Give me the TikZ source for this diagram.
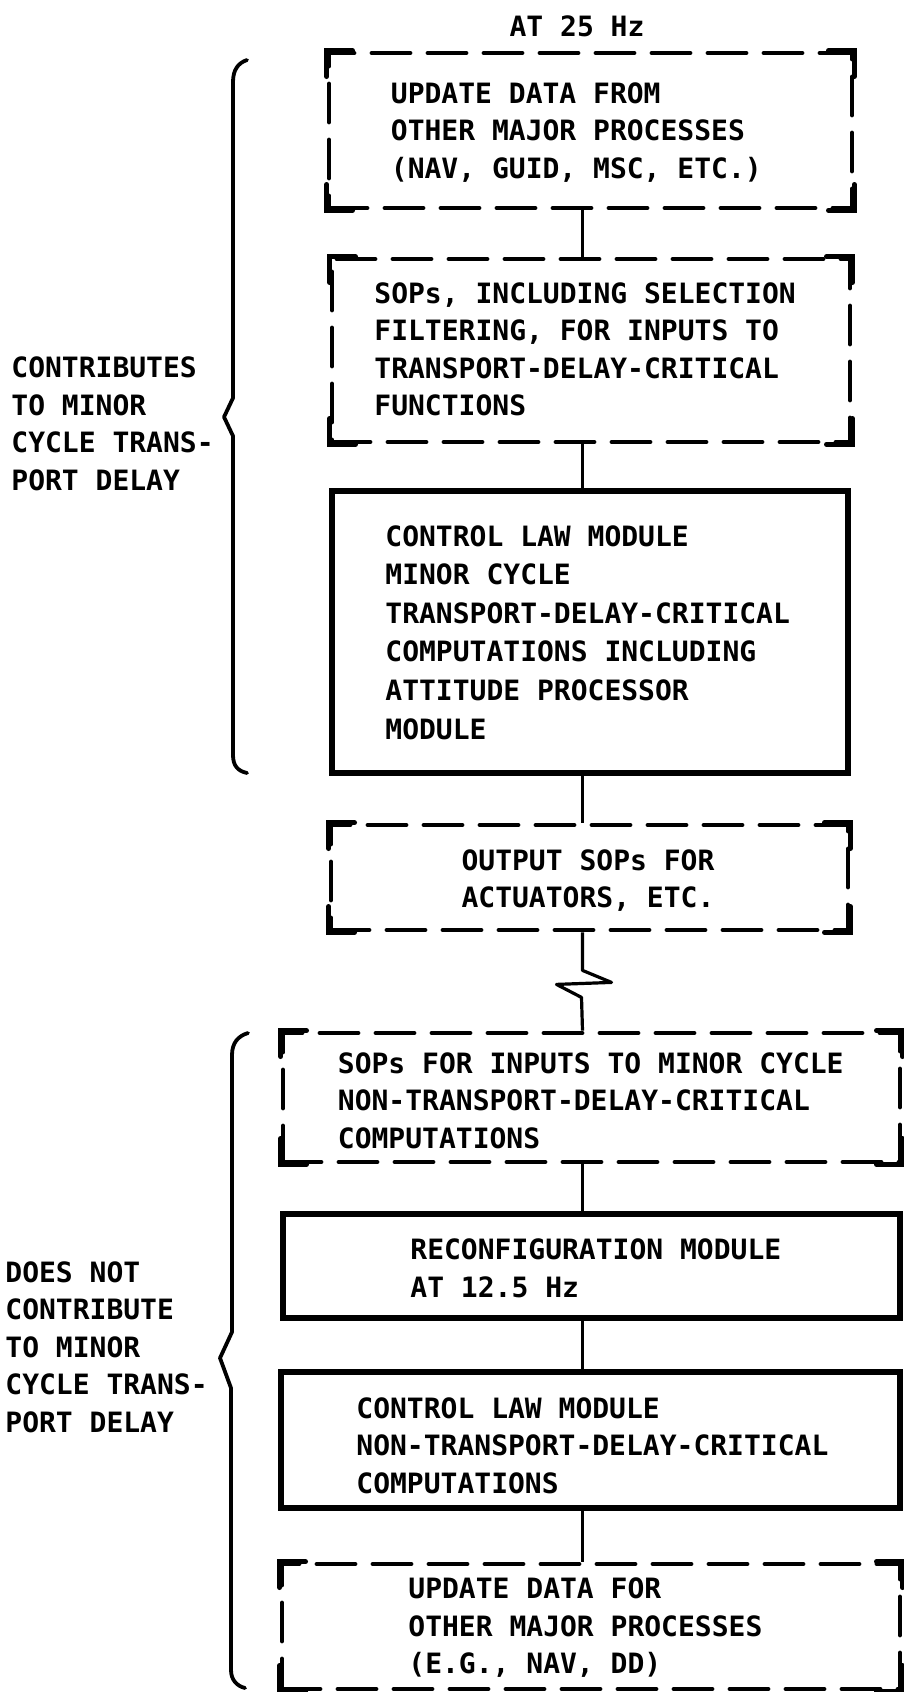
\documentclass[tikz,border=0pt]{standalone}
\usepackage{fontspec}
\newfontfamily\lettering{DejaVu Sans Mono}
\begin{document}
\begin{tikzpicture}[x=0.5pt,y=-0.5pt,
  txt/.style={font=\lettering\bfseries\fontsize{14}{18.75}\selectfont, inner sep=0pt, align=left},
  dbox/.style={draw, rectangle, inner sep=0pt, line width=2.4pt, line cap=round, dash pattern=on 19pt off 9pt},
  sbox/.style={draw, rectangle, inner sep=0pt, line width=2.8pt},
  cornerln/.style={line width=2.4pt, line cap=round, line join=miter},
  conn/.style={line width=1.6pt, line join=round},
  brc/.style={line width=1.9pt, line cap=round, line join=round}]
\useasboundingbox (0,0) rectangle (904,1692);

\coordinate (cx) at (582.5,0);

% boxes
\node[dbox, minimum width=261.5pt, minimum height=77.5pt] (b1) at (590.5,130.5) {};
\node[dbox, minimum width=259pt, minimum height=91.5pt] (b2) at (591,350.5) {};
\node[sbox, minimum width=258pt, minimum height=141pt] (b3) at (590,632) {};
\node[dbox, minimum width=258.5pt, minimum height=52.5pt] (b4) at (589.5,877.5) {};
\node[dbox, minimum width=308.5pt, minimum height=64.5pt] (b5) at (591.5,1097.5) {};
\node[sbox, minimum width=308.5pt, minimum height=52pt] (b6) at (591.5,1266) {};
\node[sbox, minimum width=309.5pt, minimum height=68pt] (b7) at (590.5,1440) {};
\node[dbox, minimum width=309pt, minimum height=62.5pt] (b8) at (591,1626.5) {};

% solid corners of dashed boxes
\foreach \n in {b1,b2,b4,b5,b8} {
  \draw[cornerln] ([shift={(0,26)}]\n.north west) -- (\n.north west) -- ([shift={(26,0)}]\n.north west);
  \draw[cornerln] ([shift={(0,26)}]\n.north east) -- (\n.north east) -- ([shift={(-26,0)}]\n.north east);
  \draw[cornerln] ([shift={(0,-26)}]\n.south west) -- (\n.south west) -- ([shift={(26,0)}]\n.south west);
  \draw[cornerln] ([shift={(0,-26)}]\n.south east) -- (\n.south east) -- ([shift={(-26,0)}]\n.south east);
}

% texts (anchored at the baseline of the last line)
\node[txt, anchor=base] (t0) at (577,36) {AT 25 Hz};
\node[txt, anchor=base west] (t1) at (390.5,178) {UPDATE DATA FROM\\OTHER MAJOR PROCESSES\\(NAV, GUID, MSC, ETC.)};
\node[txt, anchor=base west] (t2) at (374,415.5) {SOPs, INCLUDING SELECTION\\FILTERING, FOR INPUTS TO\\TRANSPORT-DELAY-CRITICAL\\FUNCTIONS};
\node[txt, anchor=base west, font=\lettering\bfseries\fontsize{14}{19.3}\selectfont] (t3) at (385,739) {CONTROL LAW MODULE\\MINOR CYCLE\\TRANSPORT-DELAY-CRITICAL\\COMPUTATIONS INCLUDING\\ATTITUDE PROCESSOR\\MODULE};
\node[txt, anchor=base, align=center] (t4) at (588,907.5) {OUTPUT SOPs FOR\\ACTUATORS, ETC.};
\node[txt, anchor=base west] (t5) at (337.5,1148) {SOPs FOR INPUTS TO MINOR CYCLE\\NON-TRANSPORT-DELAY-CRITICAL\\COMPUTATIONS};
\node[txt, anchor=base west] (t6) at (410,1297) {RECONFIGURATION MODULE\\AT 12.5 Hz};
\node[txt, anchor=base west] (t7) at (356,1493) {CONTROL LAW MODULE\\NON-TRANSPORT-DELAY-CRITICAL\\COMPUTATIONS};
\node[txt, anchor=base west] (t8) at (408,1673.5) {UPDATE DATA FOR\\OTHER MAJOR PROCESSES\\(E.G., NAV, DD)};
\node[txt, anchor=base west] (l1) at (11,490) {CONTRIBUTES\\TO MINOR\\CYCLE TRANS-\\PORT DELAY};
\node[txt, anchor=base west] (l2) at (5,1432) {DOES NOT\\CONTRIBUTE\\TO MINOR\\CYCLE TRANS-\\PORT DELAY};

% connectors
\draw[conn] (b1.south -| cx) -- (b2.north -| cx);
\draw[conn] (b2.south -| cx) -- (b3.north -| cx);
\draw[conn] (b3.south -| cx) -- (b4.north -| cx);
\draw[conn] (b4.south -| cx) -- ++(0,38) -- ++(29,12) -- ++(-55,2) -- ++(25,13) -- (b5.north -| cx);
\draw[conn] (b5.south -| cx) -- (b6.north -| cx);
\draw[conn] (b6.south -| cx) -- (b7.north -| cx);
\draw[conn] (b7.south -| cx) -- (b8.north -| cx);

% braces
\draw[brc] (247,60) .. controls (238,63) and (233,70) .. (233,82) -- (233,398) -- (224,417) -- (233,436) -- (233,755) .. controls (233,766) and (238,771) .. (247,773);
\draw[brc] (248,1033) .. controls (238,1036) and (232,1043) .. (232,1055) -- (232,1332) -- (220,1358) -- (231,1388) -- (231,1670) .. controls (231,1680) and (237,1686) .. (245,1688);
\end{tikzpicture}
\end{document}
